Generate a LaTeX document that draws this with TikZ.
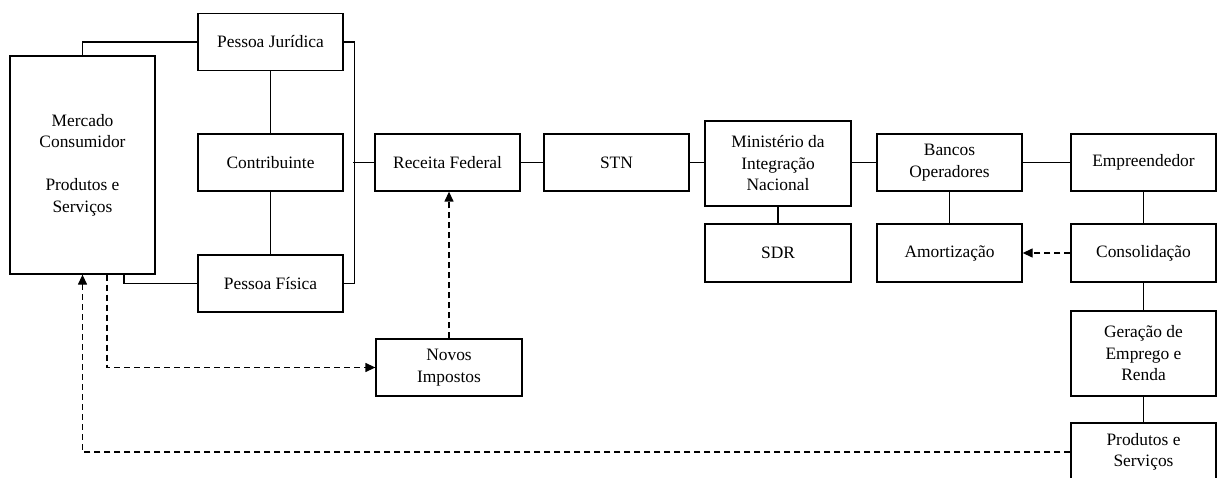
\documentclass[tikz,border=0pt]{standalone}
\usepackage{fontspec}
\setmainfont{Liberation Serif}
\usetikzlibrary{arrows.meta,calc}
\begin{document}
\begin{tikzpicture}[x=1pt,y=-1pt,
  box/.style={draw,line width=1.3pt,minimum width=145pt,minimum height=57pt,inner sep=0pt,align=center,
    font=\rmfamily\fontsize{17.4}{21.5}\selectfont},
  tall/.style={box,minimum height=85pt},
  link/.style={line width=1.3pt},
  dlink/.style={line width=1.3pt,dash pattern=on 6pt off 4pt,-{Triangle[length=10pt,width=9pt]}}]
\useasboundingbox (0,0) rectangle (1217,478);
\node[box,minimum height=218pt] (merc) at (82.5,165) {Mercado\\Consumidor\\[21.5pt]Produtos e\\Serviços};
\node[box] (pj) at (270.5,42) {Pessoa Jurídica};
\node[box] (contr) at (270.5,162.5) {Contribuinte};
\node[box] (pf) at (270.5,283.5) {Pessoa Física};
\node[box] (rf) at (447.5,162.5) {Receita Federal};
\node[box] (stn) at (616.5,162.5) {STN};
\node[tall,minimum width=146pt] (min) at (778,163.5) {Ministério da\\Integração\\Nacional};
\node[box,minimum width=146pt,minimum height=58pt] (sdr) at (778,253) {SDR};
\node[box] (banc) at (949.5,162.5) {Bancos\\Operadores};
\node[box,minimum height=58pt] (amort) at (949.5,253) {Amortização};
\node[box] (emp) at (1143.5,162.5) {Empreendedor};
\node[box,minimum height=58pt] (cons) at (1143.5,253) {Consolidação};
\node[tall] (ger) at (1143.5,353.5) {Geração de\\Emprego e\\Renda};
\node[box,minimum height=58pt] (prod) at (1143.5,452) {Produtos e\\Serviços};
\node[box,minimum width=146pt] (novos) at (449,367.5) {Novos\\Impostos};
% solid connectors
\draw[link] (merc.north) |- (pj.west);
\draw[link] ([xshift=41.5pt]merc.south) |- (pf.west);
\draw[link] (pj.east) -- ++(11,0) |- (pf.east);
\draw[link] (rf.west) -- ++(-21,0);
\draw[link] (pj.south) -- (contr.north);
\draw[link] (contr.south) -- (pf.north);
\draw[link] (rf.east) -- (stn.west);
\draw[link] (stn.east) -- (stn.east -| min.west);
\draw[link] (banc.west -| min.east) -- (banc.west);
\draw[link] (banc.east) -- (emp.west);
\draw[link] (min.south) -- (sdr.north);
\draw[link] (banc.south) -- (amort.north);
\draw[link] (emp.south) -- (cons.north);
\draw[link] (cons.south) -- (ger.north);
\draw[link] (ger.south) -- (prod.north);
% dashed arrows
\draw[dlink] (cons.west) -- (amort.east);
\draw[dlink] (novos.north) -- (novos.north |- rf.south);
\draw[dlink] ([xshift=24.5pt]merc.south) |- (novos.west);
\draw[dlink] (prod.west) -| (merc.south);
\end{tikzpicture}
\end{document}
